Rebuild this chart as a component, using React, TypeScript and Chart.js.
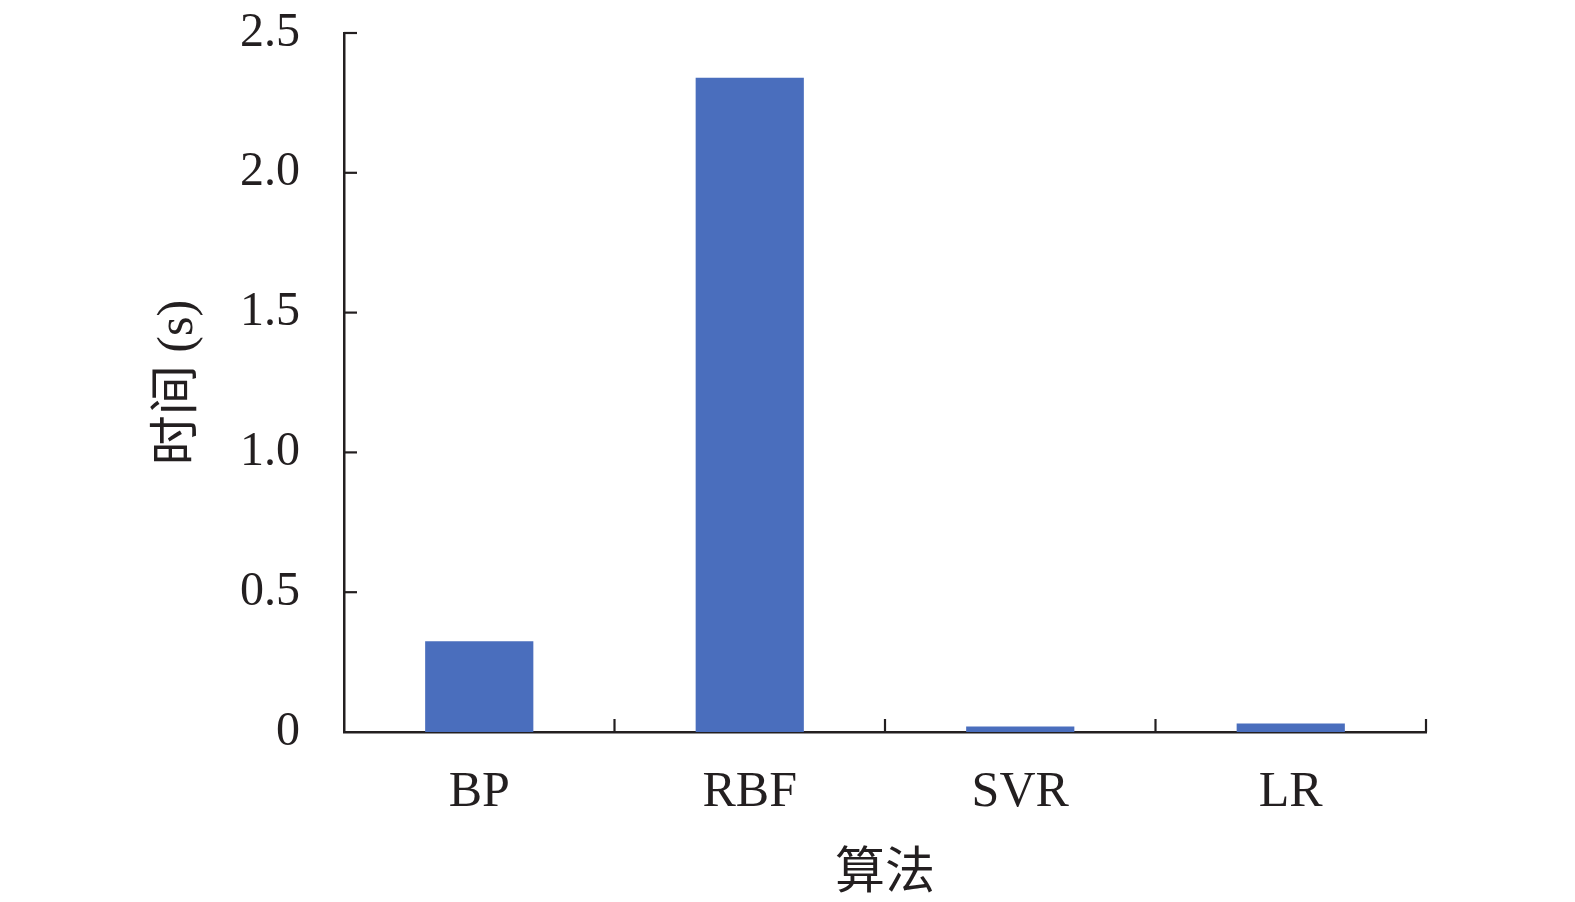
import React, { useEffect, useRef } from "react";
import { Chart, registerables } from "chart.js";

Chart.register(...registerables);

const categories = ["BP", "RBF", "SVR", "LR"];
const timeValues = [0.325, 2.34, 0.02, 0.03];
const yTickValues = [0, 0.5, 1.0, 1.5, 2.0, 2.5];

const TEXT = "#231f20";
const FONT = "'Liberation Serif', 'Noto Sans CJK SC', serif";

const innerTicks = {
  id: "innerTicks",
  afterDraw(chart: any) {
    const { ctx, scales } = chart;
    const x = scales.x;
    const y = scales.y;
    ctx.save();
    ctx.strokeStyle = TEXT;
    ctx.lineWidth = 2.2;
    yTickValues.forEach((v) => {
      if (v === 0) return;
      const py = y.getPixelForValue(v);
      ctx.beginPath();
      ctx.moveTo(x.left, py);
      ctx.lineTo(x.left + 13, py);
      ctx.stroke();
    });
    for (let i = 1; i <= categories.length; i++) {
      const px = x.getPixelForValue(i - 0.5);
      ctx.beginPath();
      ctx.moveTo(px, y.bottom);
      ctx.lineTo(px, y.bottom - 13);
      ctx.stroke();
    }
    ctx.restore();
  },
};

export default function App() {
  const ref = useRef<HTMLCanvasElement | null>(null);
  useEffect(() => {
    if (!ref.current) return;
    const chart = new Chart(ref.current, {
      type: "bar",
      data: {
        labels: categories,
        datasets: [
          {
            data: timeValues,
            backgroundColor: "#4a6ebd",
            borderWidth: 0,
            barPercentage: 0.4,
            categoryPercentage: 1.0,
          },
        ],
      },
      options: {
        responsive: false,
        animation: false,
        devicePixelRatio: 1,
        layout: { padding: { top: 33, right: 149, left: 0, bottom: 0 } },
        plugins: { legend: { display: false }, tooltip: { enabled: false } },
        scales: {
          x: {
            offset: true,
            afterFit: (s: any) => {
              s.height = 170;
              s.paddingLeft = 0;
              s.paddingRight = 0;
            },
            grid: { display: false, drawTicks: false, offset: true },
            border: { display: true, color: TEXT, width: 2.5 },
            ticks: {
              color: TEXT,
              padding: 31,
              font: { family: FONT, size: 50 },
            },
            title: {
              display: true,
              text: "算法",
              color: TEXT,
              font: { family: FONT, size: 50 },
              padding: { top: 0, bottom: -3 },
            },
          },
          y: {
            min: 0,
            max: 2.5,
            afterFit: (s: any) => {
              s.width = 344;
              s.paddingTop = 0;
              s.paddingBottom = 0;
            },
            afterBuildTicks: (s: any) => {
              s.ticks = yTickValues.map((v) => ({ value: v }));
            },
            grid: { display: false, drawTicks: false },
            border: { display: true, color: TEXT, width: 2.5 },
            ticks: {
              color: TEXT,
              padding: 44,
              font: { family: FONT, size: 48 },
              callback: (v: any) => (Number(v) === 0 ? "0" : Number(v).toFixed(1)),
            },
            title: {
              display: true,
              text: "时间 (s)",
              color: TEXT,
              font: { family: FONT, size: 50 },
              padding: { top: 149, bottom: 0 },
            },
          },
        },
      },
      plugins: [innerTicks],
    });
    return () => chart.destroy();
  }, []);
  return (
    <div style={{ position: "fixed", left: 0, top: 0, width: 1575, height: 902, background: "#fff" }}>
      <canvas ref={ref} width={1575} height={902} style={{ width: 1575, height: 902 }} />
    </div>
  );
}
